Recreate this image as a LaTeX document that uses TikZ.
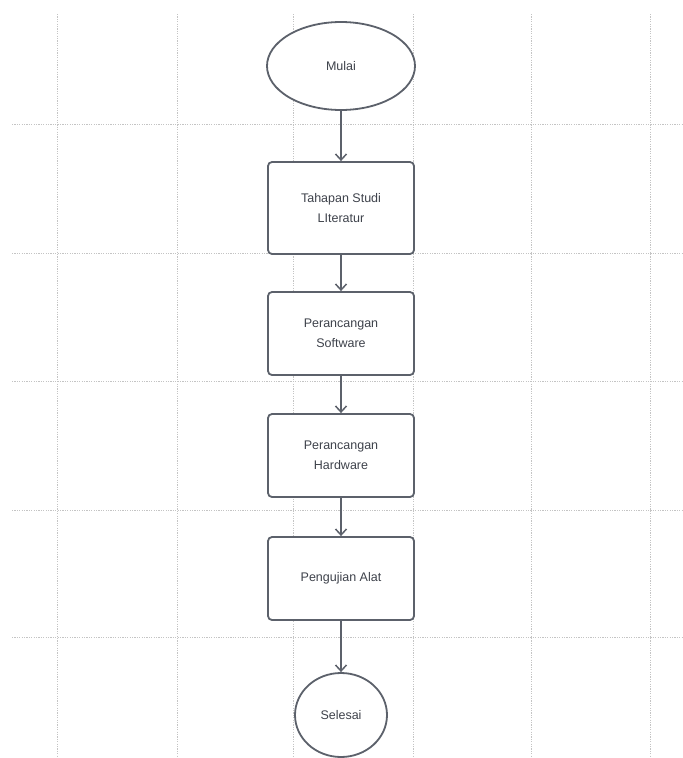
\documentclass[tikz,border=0pt]{standalone}
\usepackage{fontspec}
\setmainfont{Liberation Sans}
\usetikzlibrary{shapes.geometric,arrows.meta}
\definecolor{gridc}{HTML}{C4C4C4}
\definecolor{linec}{HTML}{5C616B}
\definecolor{textc}{HTML}{3E424B}
\begin{document}
\begin{tikzpicture}[x=1pt,y=-1pt,
  gridline/.style={gridc, line width=0.8pt, dash pattern=on 1.2pt off 1.2pt},
  stepbox/.style={draw=linec, line width=1.8pt, rounded corners=4pt, fill=white,
    minimum width=146pt, inner sep=0pt, align=center, text=textc, font=\fontsize{12.5}{20}\selectfont},
  term/.style={draw=linec, line width=1.8pt, ellipse, fill=white, inner sep=0pt,
    text=textc, font=\fontsize{12.5}{20}\selectfont},
  flow/.style={linec, line width=1.5pt, -{Straight Barb[length=6pt,width=11pt,line width=1.5pt]}}]
\path[fill=white] (0,0) rectangle (683,758);
\useasboundingbox (0,0) rectangle (683,758);
\foreach \gx in {57,177,293,413,531,650} \draw[gridline] (\gx,14) -- (\gx,758);
\foreach \gy in {124,253,381,510,637} \draw[gridline] (12,\gy) -- (683,\gy);
\node[term, minimum width=148pt, minimum height=88pt] (start) at (341,66) {Mulai};
\node[stepbox, minimum height=92pt] (b1) at (341,208) {Tahapan Studi\\LIteratur};
\node[stepbox, minimum height=83pt] (b2) at (341,333.5) {Perancangan\\Software};
\node[stepbox, minimum height=83pt] (b3) at (341,455.5) {Perancangan\\Hardware};
\node[stepbox, minimum height=83pt] (b4) at (341,578.5) {Pengujian Alat};
\node[term, minimum width=92pt, minimum height=84pt] (end) at (341,715) {Selesai};
\draw[flow] (start) -- (b1);
\draw[flow] (b1) -- (b2);
\draw[flow] (b2) -- (b3);
\draw[flow] (b3) -- (b4);
\draw[flow] (b4) -- (end);
\end{tikzpicture}
\end{document}
